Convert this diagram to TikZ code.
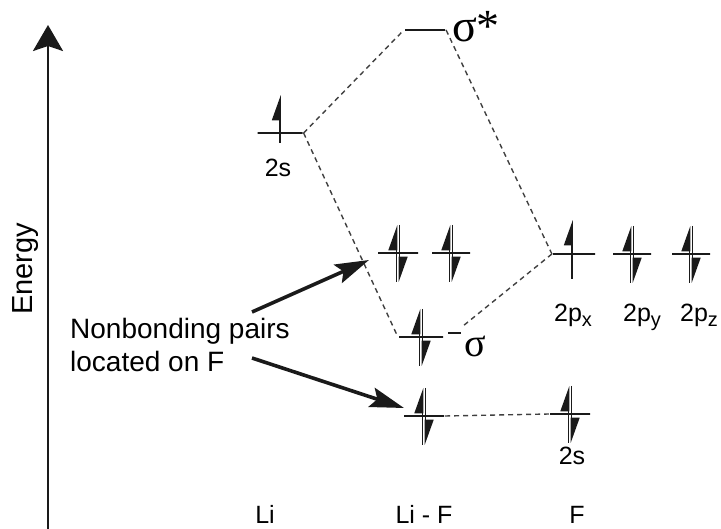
\documentclass[tikz,border=0pt]{standalone}
\usepackage{fontspec}
\setmainfont{Liberation Sans}
\newfontfamily\grkfont{Liberation Serif}
\usepackage{xcolor}
\usepackage{tikz}
\usetikzlibrary{calc,arrows.meta,positioning}
\definecolor{inkc}{HTML}{1A1A1A}
\definecolor{dashc}{HTML}{404040}
\newcommand{\orbsub}[1]{\raisebox{-5pt}{\fontsize{20}{20}\selectfont #1}}
\tikzset{
  lvl/.style={draw=inkc,line width=2.2pt,inner sep=0pt,minimum height=0pt,minimum width=#1},
  lvl/.default=40pt,
  eup/.style={-{Triangle[left,length=23pt,width=16pt]},line width=1.6pt,inkc},
  corr/.style={dashc,line width=1.4pt,dash pattern=on 5pt off 4pt},
  ptr/.style={-{Stealth[length=34pt,width=20pt,inset=6pt]},line width=3.6pt,inkc},
  lab/.style={font=\fontsize{25}{25}\selectfont,anchor=base,inner sep=0pt},
  sym/.style={font=\grkfont\fontsize{#1}{#1}\selectfont,anchor=base west,inner sep=0pt}
}
\begin{document}
\begin{tikzpicture}[x=1pt,y=-1pt]
\useasboundingbox (0,0) rectangle (721,529);
% energy axis
\coordinate (eb) at (48,529);
\coordinate (et) at (48,25);
\draw[-{Stealth[length=26pt,width=30pt,inset=5pt]},line width=2.6pt,inkc] (eb) -- (et);
\node[rotate=90,anchor=base,inner sep=0pt,font=\fontsize{29}{29}\selectfont] (energy) at (32,269) {Energy};

% levels
\node[lvl=45] (li2s) at (280,133) {};
\node[lvl] (sigs) at (425,30) {};
\node[lvl=44] (sig) at (421,337) {};
\node[lvl] (nb1) at (398,253) {};
\node[lvl=38] (nb2) at (451,253) {};
\node[lvl] (lf2s) at (424,416) {};
\node[lvl] (f2s) at (570,414) {};
\node[lvl=42] (f2px) at (574,254) {};
\node[lvl=38] (f2py) at (632,254) {};
\node[lvl=38] (f2pz) at (691,254) {};
\draw[inkc,line width=2.2pt] ($(sig.east)+(4,-4)$) -- ++(13,0);

% correlation lines
\coordinate (sigr) at (463,326);
\draw[corr] (li2s.east) -- (sigs.west);
\draw[corr] (sigs.east) -- (f2px.west);
\draw[corr] (li2s.east) -- (sig.west);
\draw[corr] (f2px.west) -- (sigr);
\draw[corr] (lf2s.east) -- (f2s.west);

% electrons
\foreach \lv in {nb1,nb2,sig,lf2s,f2s,f2py,f2pz}{
  \draw[eup] ($(\lv)+(-1.5,29)$) -- ($(\lv)+(-1.5,-28)$);
  \draw[eup] ($(\lv)+(1.5,-28)$) -- ($(\lv)+(1.5,29)$);
}
\draw[eup] ($(li2s)+(0,10)$) -- ($(li2s)+(0,-38)$);
\draw[eup] ($(f2px)+(-2,25)$) -- ($(f2px)+(-2,-34)$);

% labels
\node[lab] (li2sl) at (278,177) {2s};
\node[lab] (f2sl) at (572,465) {2s};
\node[lab] (f2pxl) at (573,322) {2p\orbsub{x}};
\node[lab] (f2pyl) at (642,322) {2p\orbsub{y}};
\node[lab] (f2pzl) at (699,322) {2p\orbsub{z}};
\node[sym=46] (sigsl) at (452,42) {σ*};
\node[sym=40] (sigl) at (464,357) {σ};
\node[lab] (lil) at (265,523) {Li};
\node[lab] (lifl) at (424,523) {Li - F};
\node[lab] (fl) at (577,523) {F};

% note and pointers
\node[anchor=base west,align=left,inner sep=0pt,font=\fontsize{28}{33}\selectfont] (note) at (70,372) {Nonbonding pairs\\located on F};
\coordinate (p1s) at (252,312);
\coordinate (p1e) at (369,260);
\coordinate (p2s) at (252,358);
\coordinate (p2e) at (404,408);
\draw[ptr] (p1s) -- (p1e);
\draw[ptr] (p2s) -- (p2e);
\end{tikzpicture}
\end{document}
